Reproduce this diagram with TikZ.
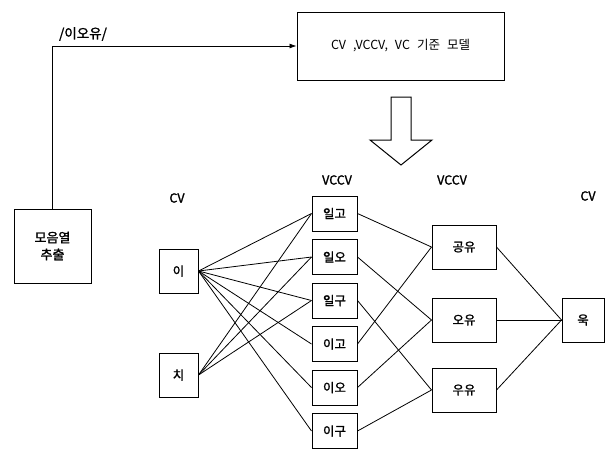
\documentclass[tikz,border=0pt]{standalone}
\usepackage{fontspec}
\setmainfont{Noto Sans CJK KR}[AutoFakeBold=1.5]
\usetikzlibrary{arrows.meta}
\tikzset{
  box/.style={draw, line width=1pt, inner sep=0pt, font=\bfseries\fontsize{12.5}{14}\selectfont},
  cvbox/.style={box, minimum width=39pt, minimum height=44pt},
  vcbox/.style={box, minimum width=45pt, minimum height=35pt},
  vvbox/.style={box, minimum width=64pt, minimum height=44pt},
  conn/.style={draw, line width=0.8pt},
  lab/.style={font=\bfseries\fontsize{12.5}{14}\selectfont},
}

\begin{document}
\begin{tikzpicture}[x=1pt, y=-1pt]
  \useasboundingbox (0,0) rectangle (605,448);

  % top: model box and extraction box
  \node[box, minimum width=207pt, minimum height=68pt, font=\fontsize{12.5}{14}\selectfont]
    (model) at (400.5,46) {CV\hspace{7pt},VCCV,\hspace{7pt}VC\hspace{7pt}기준\hspace{7pt}모델};
  \node[box, minimum width=77pt, minimum height=74pt, align=center, font=\bfseries\fontsize{13}{17}\selectfont]
    (ext) at (52.5,246) {모음열\\추출};
  \draw[conn, -{Latex[length=7pt, width=5pt]}] (ext.north) |- (model.west);
  \node[lab, font=\bfseries\fontsize{13.5}{15}\selectfont] (seq) at (83,34) {/이오유/};

  % hollow arrow
  \draw[line width=1pt] (391,97) -- (411,97) -- (411,140) -- (432,140)
    -- (401,165) -- (370,140) -- (391,140) -- cycle;

  % column titles
  \node[lab] (t1) at (177,198) {CV};
  \node[lab] (t2) at (337,180) {VCCV};
  \node[lab] (t3) at (452,180) {VCCV};
  \node[lab] (t4) at (588,196) {CV};

  \node[cvbox] (i) at (178.5,271) {이};
  \node[cvbox] (chi) at (178.5,375) {치};

  \node[vcbox] (ilgo) at (334.5,213.5) {일고};
  \node[vcbox] (ilo) at (334.5,257) {일오};
  \node[vcbox] (ilgu) at (334.5,300.5) {일구};
  \node[vcbox] (igo) at (334.5,344) {이고};
  \node[vcbox] (io) at (334.5,387.5) {이오};
  \node[vcbox] (igu) at (334.5,431) {이구};

  \node[vvbox] (gongyu) at (464,247) {공유};
  \node[vvbox] (oyu) at (464,320) {오유};
  \node[vvbox] (uyu) at (464,390) {우유};

  \node[box, minimum width=42pt, minimum height=44pt] (uk) at (583,320) {욱};

  % connections
  \foreach \v in {ilgo,ilo,ilgu,igo,io,igu}
    \draw[conn] (i.east) -- (\v.west);
  \foreach \v in {ilgo,ilo,ilgu}
    \draw[conn] (chi.east) -- (\v.west);

  \draw[conn] (ilgo.east) -- (gongyu.west);
  \draw[conn] (igo.east) -- (gongyu.west);
  \draw[conn] (ilo.east) -- (oyu.west);
  \draw[conn] (io.east) -- (oyu.west);
  \draw[conn] (ilgu.east) -- (uyu.west);
  \draw[conn] (igu.east) -- (uyu.west);

  \foreach \v in {gongyu,oyu,uyu}
    \draw[conn] (\v.east) -- (uk.west);
\end{tikzpicture}
\end{document}
